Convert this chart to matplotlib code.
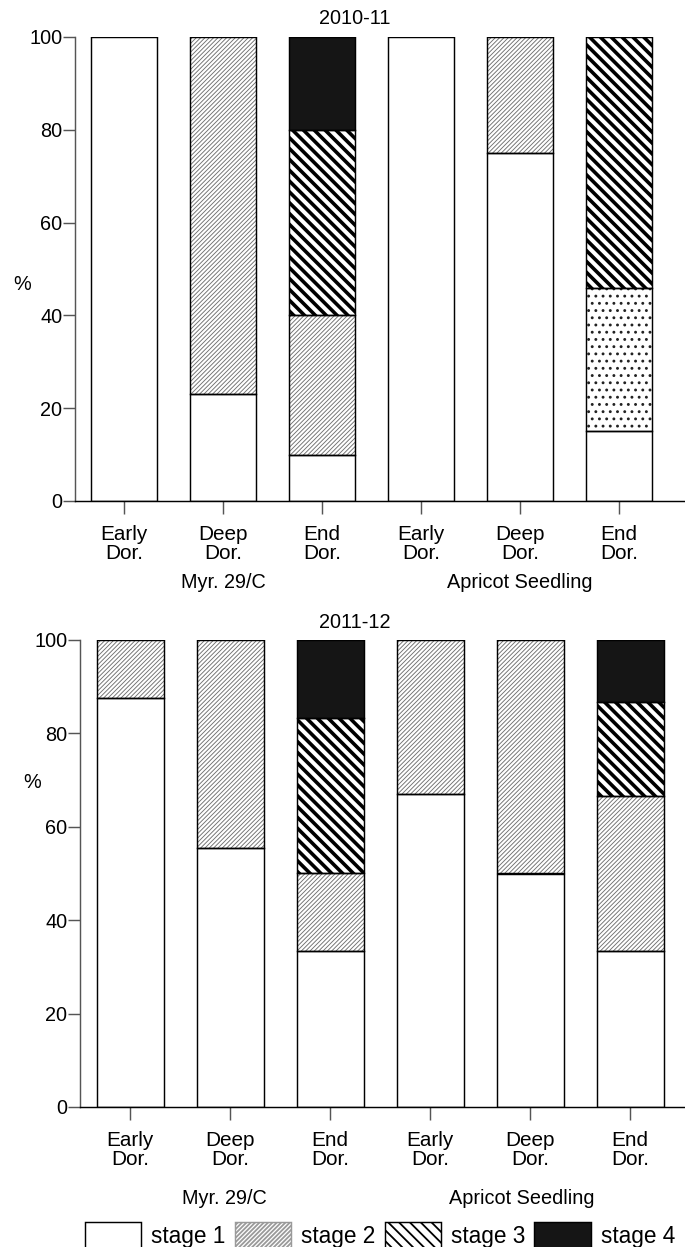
import numpy as np
import matplotlib
matplotlib.use("Agg")
import matplotlib.pyplot as plt
from matplotlib.patches import Patch

plt.rcParams['font.family'] = ['Liberation Sans', 'DejaVu Sans']
plt.rcParams['font.size'] = 11

# dormancy phases for the two genotypes
categories = ["Early\nDor.", "Deep\nDor.", "End\nDor.", "Early\nDor.", "Deep\nDor.", "End\nDor."]
groups = ["Myr. 29/C", "Apricot Seedling"]
stages = ["stage 1", "stage 2", "stage 3", "stage 4"]

# 2010-11 season (% of buds in each stage)
s1_1011 = [100, 23, 10, 100, 75, 15]
s2_1011 = [0, 77, 30, 0, 25, 31]
s3_1011 = [0, 0, 40, 0, 0, 54]
s4_1011 = [0, 0, 20, 0, 0, 0]

# 2011-12 season
s1_1112 = [87.5, 55.5, 33.3, 67, 50, 33.3]
s2_1112 = [12.5, 44.5, 16.7, 33, 50, 33.4]
s3_1112 = [0, 0, 33.3, 0, 0, 20]
s4_1112 = [0, 0, 16.7, 0, 0, 13.3]

DPI = 130
W = 0.67
FINE = "/" * 10
STRIPE = "\\" * 4
DOTS = "..."


def draw_layer(ax, x, vals, bottom, face, hatch, hcolor, hlw):
    # hatch layer first, then a plain black outline on top
    if hatch:
        bars = ax.bar(x, vals, W, bottom=bottom, color=face, edgecolor=hcolor,
                      hatch=hatch, linewidth=0, zorder=2)
        for b in bars:
            if hasattr(b, "set_hatch_linewidth"):
                b.set_hatch_linewidth(hlw)
    else:
        ax.bar(x, vals, W, bottom=bottom, color=face, linewidth=0, zorder=2)
    ax.bar(x, vals, W, bottom=bottom, fill=False, edgecolor="black",
           linewidth=0.8, zorder=3)


def panel(ax, s1, s2, s3, s4, hatch2, xlim):
    x = np.arange(len(categories))
    b = np.zeros(len(x))
    draw_layer(ax, x, s1, b, "white", None, None, 0)
    b = b + np.array(s1)
    for i in range(len(x)):
        if s2[i] > 0:
            if hatch2[i] == DOTS:
                draw_layer(ax, [x[i]], [s2[i]], [b[i]], "white", DOTS, "#222222", 0.8)
            else:
                draw_layer(ax, [x[i]], [s2[i]], [b[i]], "white", hatch2[i], "#707070", 0.5)
    b = b + np.array(s2)
    m = np.array(s3) > 0
    draw_layer(ax, x[m], np.array(s3)[m], b[m], "white", STRIPE, "black", 2.0)
    b = b + np.array(s3)
    m = np.array(s4) > 0
    draw_layer(ax, x[m], np.array(s4)[m], b[m], "#151515", None, None, 0)

    ax.set_xlim(*xlim)
    ax.set_ylim(0, 100)
    ax.set_yticks([0, 20, 40, 60, 80, 100])
    ax.set_xticks(x)
    ax.set_xticklabels(categories, linespacing=0.95)
    for s in ["top", "right"]:
        ax.spines[s].set_visible(False)
    ax.spines["left"].set_color("#555555")
    ax.spines["bottom"].set_color("black")
    ax.tick_params(axis="x", length=7, width=0.8, color="#555555", pad=6.5, labelsize=11.5)
    ax.tick_params(axis="y", length=6.5, width=0.8, color="#555555", pad=0.5, labelsize=11)


fig = plt.figure(figsize=(685 / DPI, 1247 / DPI), dpi=DPI)

ax1 = fig.add_axes([75 / 685, 1 - 501 / 1247, 1 - 75 / 685, (501 - 37) / 1247])
panel(ax1, s1_1011, s2_1011, s3_1011, s4_1011,
      [FINE] * 5 + [DOTS], (-0.495, 5.67))

ax2 = fig.add_axes([80 / 685, 1 - 1107 / 1247, 1 - 80 / 685, (1107 - 640) / 1247])
panel(ax2, s1_1112, s2_1112, s3_1112, s4_1112,
      [FINE] * 6, (-0.5, 5.55))

fig.text(355 / 685, 1 - 18 / 1247, "2010-11", ha="center", va="center", fontsize=11)
fig.text(355 / 685, 1 - 622 / 1247, "2011-12", ha="center", va="center", fontsize=11)
fig.text(22 / 685, 1 - 285 / 1247, "%", ha="center", va="center", fontsize=11)
fig.text(32 / 685, 1 - 782 / 1247, "%", ha="center", va="center", fontsize=11)

fig.text(223 / 685, 1 - 588 / 1247, groups[0], ha="center", va="baseline", fontsize=11)
fig.text(520 / 685, 1 - 588 / 1247, groups[1], ha="center", va="baseline", fontsize=11)
fig.text(224 / 685, 1 - 1204 / 1247, groups[0], ha="center", va="baseline", fontsize=11)
fig.text(522 / 685, 1 - 1204 / 1247, groups[1], ha="center", va="baseline", fontsize=11)

handles = [
    Patch(facecolor="white", edgecolor="black", linewidth=0.8),
    Patch(facecolor="white", edgecolor="#9a9a9a", hatch=FINE, linewidth=0.8),
    Patch(facecolor="white", edgecolor="black", hatch=STRIPE, linewidth=0.8),
    Patch(facecolor="#151515", edgecolor="black", linewidth=0.8),
]
fig.legend(handles, stages, loc="center", bbox_to_anchor=(380 / 685, 1 - 1235 / 1247),
           ncol=4, frameon=False, handlelength=2.5, handleheight=1.4,
           handletextpad=0.45, columnspacing=0.4, fontsize=12.5,
           borderaxespad=0, borderpad=0)

fig.savefig("out.png", dpi=DPI)
